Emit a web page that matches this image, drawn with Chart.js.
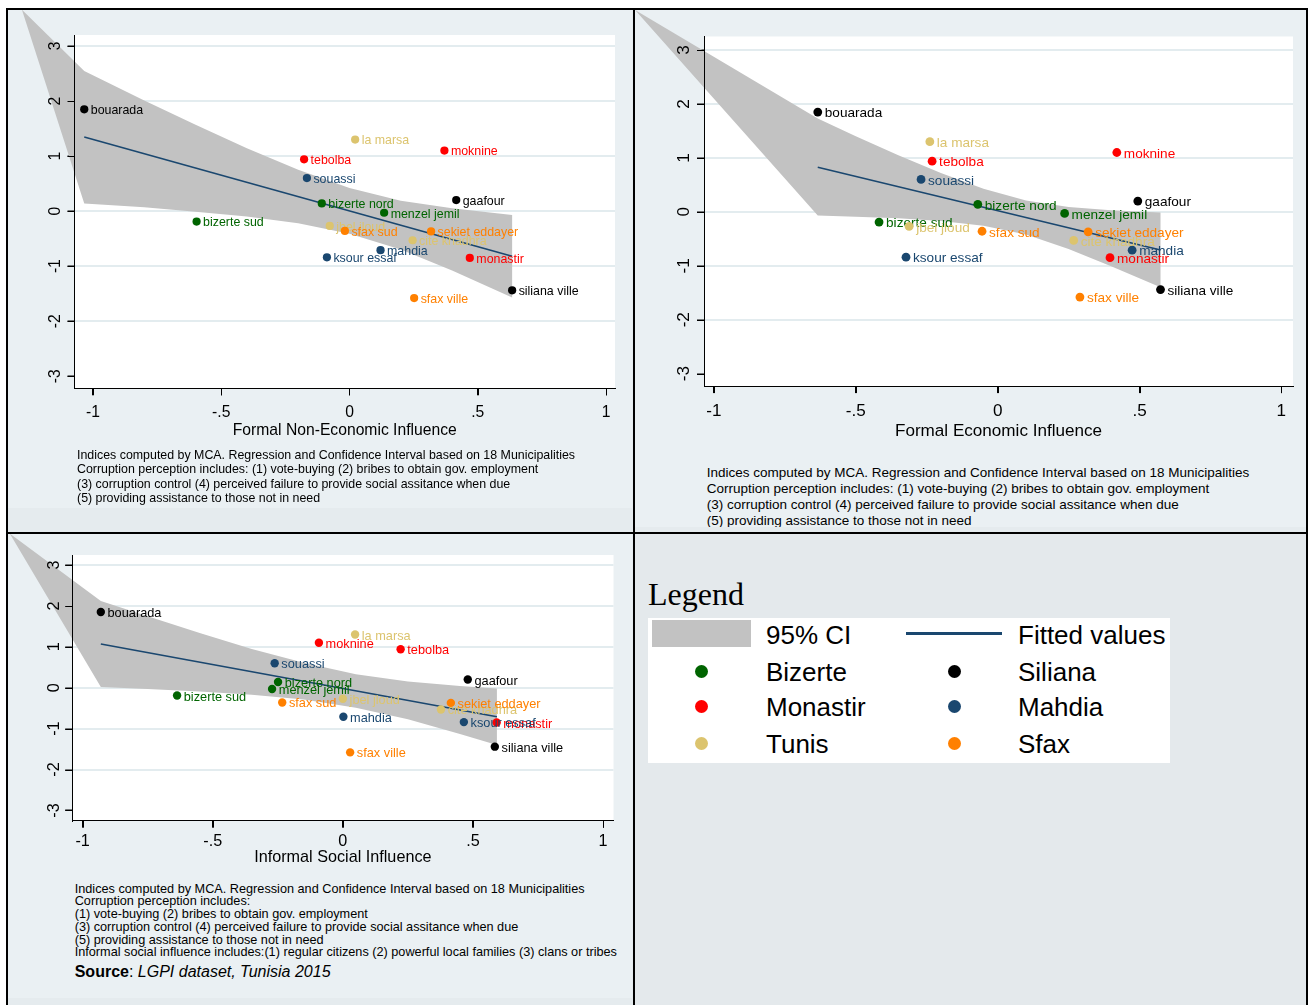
<!DOCTYPE html>
<html lang="en">
<head>
<meta charset="utf-8">
<title>Corruption perception and local influence, Tunisia 2015</title>
<script src="https://cdn.jsdelivr.net/npm/chart.js@4.4.1/dist/chart.umd.min.js"></script>
<style>
  html, body { margin: 0; padding: 0; background: #ffffff; }
  body { position: relative; width: 1311px; height: 1005px; overflow: hidden;
         font-family: "Liberation Sans", Arial, Helvetica, sans-serif; color: #000; }
  .cell { position: absolute; background: #e5ebee; }
  .panel { position: absolute; background: #eaf0f3; overflow: hidden; }
  .panel canvas { position: absolute; }
  .notes { position: absolute; white-space: nowrap; color: #000; }
  .rule { position: absolute; background: #000; z-index: 10; }
  .lg { position: absolute; white-space: nowrap; }
</style>
</head>
<body>
  <div class="cell" style="left:8px;top:10px;width:625px;height:522px"></div>
  <div class="cell" style="left:635px;top:10px;width:671px;height:522px"></div>
  <div class="cell" style="left:8px;top:534px;width:625px;height:471px"></div>
  <div class="cell" id="legendCell" style="left:635px;top:534px;width:671px;height:471px;background:#e4e9ec"></div>

  <div class="panel" style="left:8px;top:10px;width:624px;height:498px">
    <canvas id="p1" style="left:14px;top:0"></canvas>
    <div class="notes" style="left:69px;top:437.8px;font-size:12.4px;line-height:14.5px">
      Indices computed by MCA. Regression and Confidence Interval based on 18 Municipalities<br>
      Corruption perception includes: (1) vote-buying (2) bribes to obtain gov. employment<br>
      (3) corruption control (4) perceived failure to provide social assitance when due<br>
      (5) providing assistance to those not in need
    </div>
  </div>

  <div class="panel" style="left:635px;top:10px;width:671px;height:517px">
    <canvas id="p2" style="left:0;top:0"></canvas>
    <div class="notes" style="left:71.7px;top:455.4px;font-size:13.5px;line-height:15.8px">
      Indices computed by MCA. Regression and Confidence Interval based on 18 Municipalities<br>
      Corruption perception includes: (1) vote-buying (2) bribes to obtain gov. employment<br>
      (3) corruption control (4) perceived failure to provide social assitance when due<br>
      (5) providing assistance to those not in need
    </div>
  </div>

  <div class="panel" style="left:8px;top:534px;width:624px;height:464px">
    <canvas id="p3" style="left:1px;top:0"></canvas>
    <div class="notes" style="left:66.7px;top:348.5px;font-size:12.7px;line-height:12.8px">
      Indices computed by MCA. Regression and Confidence Interval based on 18 Municipalities<br>
      Corruption perception includes:<br>
      (1) vote-buying (2) bribes to obtain gov. employment<br>
      (3) corruption control (4) perceived failure to provide social assitance when due<br>
      (5) providing assistance to those not in need<br>
      Informal social influence includes:(1) regular citizens (2) powerful local families (3) clans or tribes
    </div>
    <div class="notes" style="left:66.7px;top:430.2px;font-size:16px;line-height:16px">
      <b>Source</b>: <i>LGPI dataset, Tunisia 2015</i>
    </div>
  </div>

  <div class="rule" style="left:6px;top:8px;width:1302px;height:2px"></div>
  <div class="rule" style="left:6px;top:8px;width:2px;height:997px"></div>
  <div class="rule" style="left:633px;top:8px;width:2px;height:997px"></div>
  <div class="rule" style="left:1306px;top:8px;width:2px;height:997px"></div>
  <div class="rule" style="left:6px;top:532px;width:1302px;height:2px"></div>

<script>
// ---- municipalities and their scores -------------------------------------
const municipalities = ['bizerte nord', 'bizerte sud', 'menzel jemil',
                        'bouarada', 'gaafour', 'siliana ville',
                        'moknine', 'tebolba', 'monastir',
                        'souassi', 'ksour essaf', 'mahdia',
                        'la marsa', 'jbel jloud', 'cite khadhra',
                        'sfax sud', 'sekiet eddayer', 'sfax ville'];
const governorate = ['Bizerte', 'Bizerte', 'Bizerte',
                     'Siliana', 'Siliana', 'Siliana',
                     'Monastir', 'Monastir', 'Monastir',
                     'Mahdia', 'Mahdia', 'Mahdia',
                     'Tunis', 'Tunis', 'Tunis',
                     'Sfax', 'Sfax', 'Sfax'];
// corruption perception index (vertical axis, shared by all three plots)
const corruption = [0.14, -0.19, -0.03,
                    1.85, 0.20, -1.44,
                    1.10, 0.94, -0.85,
                    0.60, -0.84, -0.71,
                    1.30, -0.27, -0.53,
                    -0.36, -0.37, -1.58];
const formalNonEconomic = [-0.108, -0.596, 0.135,
                           -1.034, 0.416, 0.634,
                           0.370, -0.177, 0.469,
                           -0.166, -0.088, 0.121,
                           0.022, -0.077, 0.246,
                           -0.018, 0.318, 0.252];
const formalEconomic = [-0.070, -0.418, 0.236,
                        -0.634, 0.494, 0.574,
                        0.420, -0.231, 0.396,
                        -0.270, -0.323, 0.474,
                        -0.239, -0.312, 0.268,
                        -0.055, 0.319, 0.290];
const informalSocial = [-0.249, -0.637, -0.272,
                        -0.930, 0.480, 0.584,
                        -0.092, 0.222, 0.591,
                        -0.262, 0.465, 0.002,
                        0.047, 0.000, 0.377,
                        -0.233, 0.415, 0.028];

// ---- fitted values and 95% confidence bands ------------------------------
const fitNonEcoX = [-1.034, 0.634];
const fitNonEcoY = [1.345, -0.82];
const ciNonEcoX  = [-1.034, -0.8, -0.6, -0.4, -0.2, 0.0, 0.2, 0.4, 0.634];
const ciNonEcoHi = [2.545, 2.01, 1.57, 1.14, 0.75, 0.42, 0.19, 0.05, -0.07];
const ciNonEcoLo = [0.14, 0.07, -0.01, -0.10, -0.22, -0.41, -0.70, -1.08, -1.57];
const ciNonEcoCorner = [-1.277, 3.66];

const fitEcoX = [-0.634, 0.574];
const fitEcoY = [0.826, -0.708];
const ciEcoX  = [-0.634, -0.5, -0.35, -0.2, -0.05, 0.1, 0.25, 0.4, 0.574];
const ciEcoHi = [1.73, 1.40, 1.05, 0.72, 0.43, 0.21, 0.09, 0.03, -0.01];
const ciEcoLo = [-0.07, -0.09, -0.12, -0.17, -0.26, -0.42, -0.69, -1.01, -1.40];
const ciEcoCorner = [-1.278, 3.74];

const fitSocX = [-0.93, 0.592];
const fitSocY = [1.07, -0.71];
const ciSocX  = [-0.93, -0.75, -0.55, -0.35, -0.15, 0.05, 0.25, 0.45, 0.592];
const ciSocHi = [2.12, 1.75, 1.34, 0.95, 0.61, 0.33, 0.15, 0.04, -0.02];
const ciSocLo = [0.02, -0.03, -0.09, -0.17, -0.29, -0.49, -0.77, -1.13, -1.40];
const ciSocCorner = [-1.28, 3.77];

// ---- axes ------------------------------------------------------------------
const xTicks = [-1, -0.5, 0, 0.5, 1];
const xTickLabels = ['-1', '-.5', '0', '.5', '1'];
const yTicks = [-3, -2, -1, 0, 1, 2, 3];

// ---- styling ---------------------------------------------------------------
const regions = ['Bizerte', 'Siliana', 'Monastir', 'Mahdia', 'Tunis', 'Sfax'];
const regionColors = ['#006400', '#000000', '#ff0000', '#1a476f', '#dcc46e', '#ff8000'];
const bandColor = '#c2c2c2';
const fitColor = '#1a476f';
const gridColor = '#e3ecef';
const sansFamily = '"Liberation Sans", Arial, Helvetica, sans-serif';

Chart.defaults.font.family = sansFamily;
Chart.defaults.color = '#000';

const panels = [
  { id: 'p1', title: 'Formal Non-Economic Influence', xs: formalNonEconomic,
    fitX: fitNonEcoX, fitY: fitNonEcoY, ciX: ciNonEcoX, ciHi: ciNonEcoHi, ciLo: ciNonEcoLo, corner: ciNonEcoCorner,
    xMin: -1.072, xMax: 1.035, yMin: -3.22, yMax: 3.2,
    width: 611, height: 440, padTop: 25, padRight: 18, yAxisW: 52.5, xAxisH: 61.7,
    font: 15.7, labelFont: 12.4, dot: 4.1, gap: 6.5, xPad: 8.3, yPad: 4.5, titlePad: 9.8 },
  { id: 'p2', title: 'Formal Economic Influence', xs: formalEconomic,
    fitX: fitEcoX, fitY: fitEcoY, ciX: ciEcoX, ciHi: ciEcoHi, ciLo: ciEcoLo, corner: ciEcoCorner,
    xMin: -1.035, xMax: 1.041, yMin: -3.23, yMax: 3.25,
    width: 671, height: 440, padTop: 26.5, padRight: 13, yAxisW: 69, xAxisH: 63.9,
    font: 17.1, labelFont: 13.6, dot: 4.4, gap: 7, xPad: 8.2, yPad: 4.9, titlePad: 8.7 },
  { id: 'p3', title: 'Informal Social Influence', xs: informalSocial,
    fitX: fitSocX, fitY: fitSocY, ciX: ciSocX, ciHi: ciSocHi, ciLo: ciSocLo, corner: ciSocCorner,
    xMin: -1.04, xMax: 1.04, yMin: -3.25, yMax: 3.245,
    width: 624, height: 340, padTop: 21, padRight: 19.5, yAxisW: 63.2, xAxisH: 53.3,
    font: 16.2, labelFont: 12.75, dot: 4.2, gap: 6.7, xPad: 4.4, yPad: 3.3, titlePad: 7 }
];

// white plot region behind the grid
const plotBackground = {
  id: 'plotBackground',
  beforeDraw(chart) {
    const { ctx, chartArea: a } = chart;
    ctx.save();
    ctx.fillStyle = '#ffffff';
    ctx.fillRect(a.left, a.top, a.right - a.left, a.bottom - a.top);
    ctx.restore();
  }
};

// confidence band polygon, drawn from the band dataset's own points (not clipped)
const ciBand = {
  id: 'ciBand',
  beforeDatasetsDraw(chart) {
    const ctx = chart.ctx;
    chart.data.datasets.forEach((ds, i) => {
      if (!ds.ciBand) return;
      const pts = chart.getDatasetMeta(i).data;
      ctx.save();
      ctx.beginPath();
      pts.forEach((pt, j) => (j ? ctx.lineTo(pt.x, pt.y) : ctx.moveTo(pt.x, pt.y)));
      ctx.closePath();
      ctx.fillStyle = ds.backgroundColor;
      ctx.fill();
      ctx.restore();
    });
  }
};

// municipality names to the right of each marker
const markerLabels = {
  id: 'markerLabels',
  afterDatasetDraw(chart, args, opts) {
    const ds = chart.data.datasets[args.index];
    if (!ds.markerLabels) return;
    const ctx = chart.ctx;
    ctx.save();
    ctx.font = opts.size + 'px ' + sansFamily;
    ctx.fillStyle = ds.backgroundColor;
    ctx.textAlign = 'left';
    ctx.textBaseline = 'middle';
    args.meta.data.forEach((pt, j) => ctx.fillText(ds.data[j].name, pt.x + opts.gap, pt.y + opts.dy));
    ctx.restore();
  }
};

// axis tick marks kept on top of the shaded band
const tickMarks = {
  id: 'tickMarks',
  afterDatasetsDraw(chart, args, opts) {
    const { ctx, scales: { x, y } } = chart;
    ctx.save();
    ctx.strokeStyle = '#000';
    ctx.lineWidth = 1;
    ctx.beginPath();
    x.ticks.forEach(t => {
      const px = Math.round(x.getPixelForValue(t.value)) + 0.5;
      ctx.moveTo(px, x.top); ctx.lineTo(px, x.top + opts.len);
    });
    y.ticks.forEach(t => {
      const py = Math.round(y.getPixelForValue(t.value)) + 0.5;
      ctx.moveTo(y.right - opts.len, py); ctx.lineTo(y.right, py);
    });
    ctx.stroke();
    ctx.restore();
  }
};

function buildPanel(p) {
  const cv = document.getElementById(p.id);
  cv.width = p.width; cv.height = p.height;
  cv.style.width = p.width + 'px'; cv.style.height = p.height + 'px';

  const band = [{ x: p.corner[0], y: p.corner[1] }];
  p.ciX.forEach((x, i) => band.push({ x, y: p.ciHi[i] }));
  for (let i = p.ciX.length - 1; i >= 0; i--) band.push({ x: p.ciX[i], y: p.ciLo[i] });

  const datasets = [
    { label: '95% CI', data: band, showLine: false, pointRadius: 0, pointHoverRadius: 0,
      backgroundColor: bandColor, order: 100, ciBand: true },
    { label: 'Fitted values', data: p.fitX.map((x, i) => ({ x, y: p.fitY[i] })), showLine: true,
      borderColor: fitColor, borderWidth: 1.6, pointRadius: 0, pointHoverRadius: 0, fill: false, order: 90 }
  ];
  regions.forEach((r, k) => {
    const pts = [];
    municipalities.forEach((m, i) => {
      if (governorate[i] === r) pts.push({ x: p.xs[i], y: corruption[i], name: m });
    });
    datasets.push({ label: r, data: pts, backgroundColor: regionColors[k], borderWidth: 0,
      pointRadius: p.dot, pointHoverRadius: p.dot, order: 60 - 10 * k, markerLabels: true });
  });

  new Chart(cv, {
    type: 'scatter',
    data: { datasets },
    plugins: [plotBackground, ciBand, markerLabels, tickMarks],
    options: {
      responsive: false,
      animation: false,
      events: [],
      layout: { padding: { left: 0, top: p.padTop, right: p.padRight, bottom: 0 } },
      plugins: {
        legend: { display: false },
        tooltip: { enabled: false },
        markerLabels: { size: p.labelFont, gap: p.gap, dy: 1.5 },
        tickMarks: { len: 7 }
      },
      scales: {
        x: {
          type: 'linear', position: 'bottom', min: p.xMin, max: p.xMax,
          afterBuildTicks: s => { s.ticks = xTicks.map(v => ({ value: v })); },
          afterFit: s => { s.height = p.xAxisH; },
          ticks: { autoSkip: false, minRotation: 0, maxRotation: 0, padding: p.xPad, color: '#000',
                   font: { size: p.font }, z: 1,
                   callback: v => xTickLabels[xTicks.indexOf(v)] },
          grid: { drawOnChartArea: false, drawTicks: true, tickLength: 7, tickColor: '#000', tickWidth: 1 },
          border: { display: true, color: '#000', width: 1, z: 1 },
          title: { display: true, text: p.title, color: '#000', font: { size: p.font },
                   padding: { top: 0, bottom: p.titlePad } }
        },
        y: {
          type: 'linear', position: 'left', min: p.yMin, max: p.yMax,
          afterBuildTicks: s => { s.ticks = yTicks.map(v => ({ value: v })); },
          afterFit: s => { s.width = p.yAxisW; },
          ticks: { autoSkip: false, minRotation: 90, maxRotation: 90, crossAlign: 'center',
                   padding: p.yPad, color: '#000', font: { size: p.font }, z: 1,
                   callback: v => String(v) },
          grid: { color: c => (c.tick && c.tick.value === yTicks[0]) ? 'rgba(0,0,0,0)' : gridColor,
                  lineWidth: 2, drawTicks: true, tickLength: 7, tickColor: '#000', tickWidth: 1 },
          border: { display: true, color: '#000', width: 1, z: 1 }
        }
      }
    }
  });
}

panels.forEach(buildPanel);

// ---- key panel -------------------------------------------------------------
function addBox(styles, text) {
  const el = document.createElement('div');
  el.className = 'lg';
  Object.assign(el.style, styles);
  if (text) el.textContent = text;
  document.body.appendChild(el);
  return el;
}
(function buildKey() {
  addBox({ left: '648px', top: '578px', fontFamily: '"Liberation Serif", "Times New Roman", serif',
           fontSize: '32px', lineHeight: '32px', color: '#000' }, 'Legend');
  addBox({ left: '648px', top: '618px', width: '522px', height: '145px', background: '#ffffff' });
  addBox({ left: '652px', top: '620px', width: '99px', height: '27px', background: bandColor });
  addBox({ left: '906px', top: '632px', width: '96px', height: '3px', background: fitColor });

  const rowTop = [622.3, 659, 694, 730.6];
  const rowMid = [635, 671.7, 706.7, 743.3];
  const textX = [766, 1018];
  const dotX = [701, 954];
  const textStyle = (left, top) => ({ left: left + 'px', top: top + 'px', fontSize: '26px',
                                      lineHeight: '26px', color: '#000' });
  addBox(textStyle(textX[0], rowTop[0]), '95% CI');
  addBox(textStyle(textX[1], rowTop[0]), 'Fitted values');
  regions.forEach((r, k) => {
    const row = 1 + Math.floor(k / 2), col = k % 2;
    addBox({ left: (dotX[col] - 6.5) + 'px', top: (rowMid[row] - 6.5) + 'px', width: '13px', height: '13px',
             borderRadius: '50%', background: regionColors[k] });
    addBox(textStyle(textX[col], rowTop[row]), r);
  });
})();
</script>
</body>
</html>
